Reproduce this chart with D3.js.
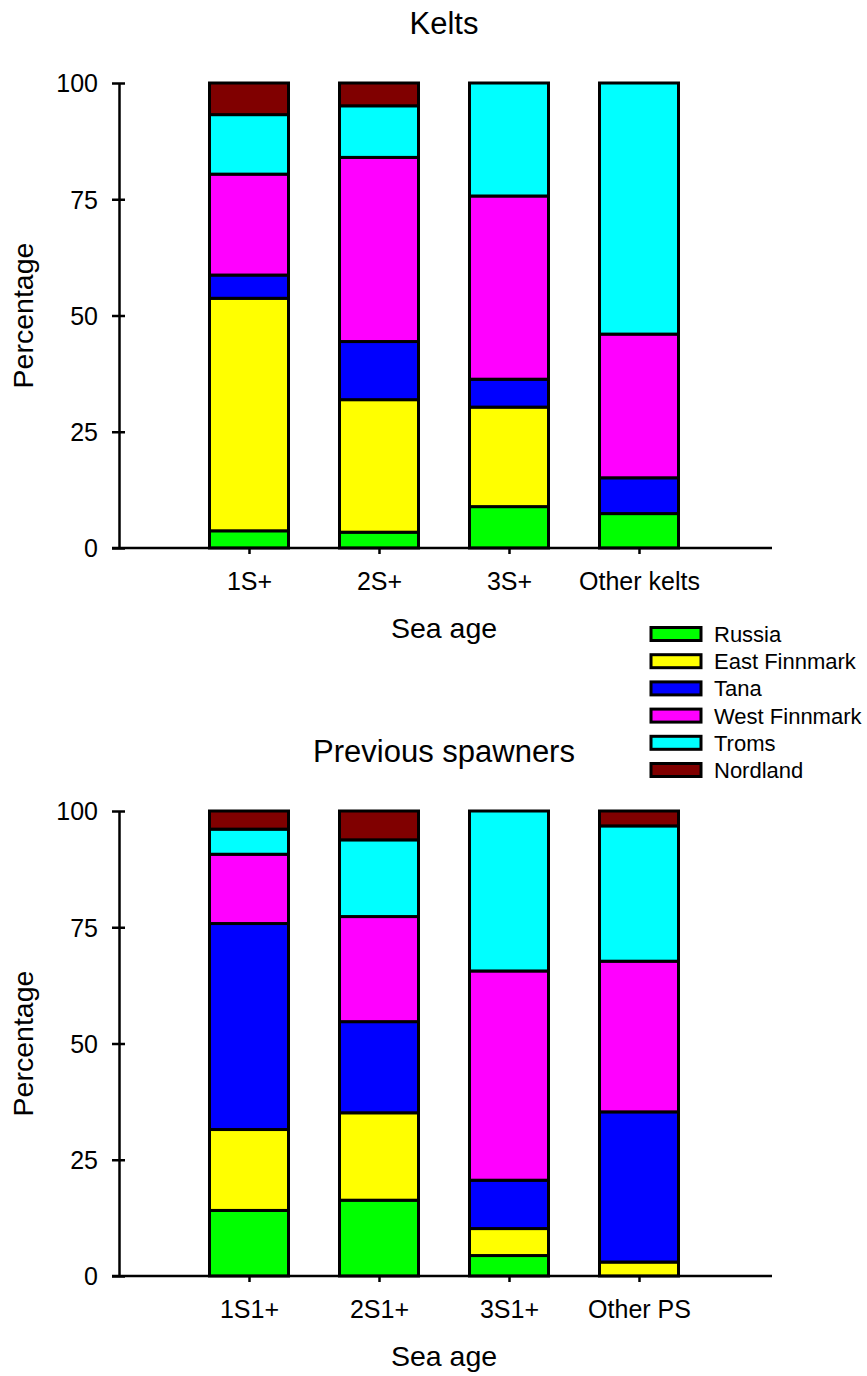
<!DOCTYPE html>
<html>
<head>
<meta charset="utf-8">
<script src="https://cdn.jsdelivr.net/npm/d3@7"></script>
<style>
  html, body { margin: 0; padding: 0; background: #fff; }
  svg { display: block; font-family: "Liberation Sans", Arial, Helvetica, sans-serif; }
</style>
</head>
<body>
<svg id="chart" width="867" height="1376"></svg>
<script>
// Origin regions, stacked bottom to top
const regions = ["Russia", "East Finnmark", "Tana", "West Finnmark", "Troms", "Nordland"];
const regionColors = ["#00ff00", "#ffff00", "#0000ff", "#ff00ff", "#00ffff", "#800000"];

// Kelts by sea age (percent)
const keltAges = ["1S+", "2S+", "3S+", "Other kelts"];
const russiaKelts       = [3.7, 3.4, 8.9, 7.4];
const eastFinnmarkKelts = [50.0, 28.5, 21.4, 0];
const tanaKelts         = [5.0, 12.5, 6.0, 7.7];
const westFinnmarkKelts = [21.7, 39.6, 39.4, 30.9];
const tromsKelts        = [12.8, 11.1, 24.3, 54.0];
const nordlandKelts     = [6.8, 4.9, 0, 0];

// Previous spawners by sea age (percent)
const spawnerAges = ["1S1+", "2S1+", "3S1+", "Other PS"];
const russiaPS       = [14.1, 16.3, 4.4, 0];
const eastFinnmarkPS = [17.4, 18.8, 5.8, 3.0];
const tanaPS         = [44.3, 19.6, 10.4, 32.3];
const westFinnmarkPS = [14.9, 22.6, 45.0, 32.4];
const tromsPS        = [5.4, 16.5, 34.4, 29.1];
const nordlandPS     = [3.9, 6.2, 0, 3.2];

const yTicks = [0, 25, 50, 75, 100];

const svg = d3.select("#chart");

function rows(ages, series) {
  return ages.map((age, i) => {
    const r = { age };
    regions.forEach((reg, k) => { r[reg] = series[k][i]; });
    return r;
  });
}

function drawPanel(opts) {
  const { title, ages, series, top, bottom } = opts;
  const left = 119, right = 769;

  const x = d3.scalePoint().domain(ages).range([left, right]).padding(1);
  const y = d3.scaleLinear().domain([0, 100]).range([bottom, top]);
  const barW = 79;

  const g = svg.append("g");

  // title
  g.append("text")
    .attr("x", (left + right) / 2)
    .attr("y", top - 49)
    .attr("text-anchor", "middle")
    .attr("font-size", 31)
    .text(title);

  // stacked bars
  const stacked = d3.stack().keys(regions)(rows(ages, series));
  stacked.forEach((layer, k) => {
    g.append("g")
      .selectAll("rect")
      .data(layer.filter(d => d[1] - d[0] > 0))
      .join("rect")
      .attr("x", d => x(d.data.age) - barW / 2)
      .attr("width", barW)
      .attr("y", d => y(d[1]))
      .attr("height", d => y(d[0]) - y(d[1]))
      .attr("fill", regionColors[k])
      .attr("stroke", "#000")
      .attr("stroke-width", 3);
  });

  // y axis
  const yAxis = g.append("g")
    .attr("transform", `translate(${left},0)`)
    .call(d3.axisLeft(y).tickValues(yTicks).tickSizeInner(7).tickSizeOuter(0).tickPadding(14));
  yAxis.select(".domain").attr("stroke-width", 2.5);
  yAxis.selectAll(".tick line").attr("x1", 6).attr("x2", -7).attr("stroke-width", 2.5);
  yAxis.selectAll(".tick text").attr("font-size", 25).attr("fill", "#000")
    .attr("font-family", "Liberation Sans, Arial, sans-serif").attr("dy", "0.35em");

  // x axis
  const xAxis = g.append("g")
    .attr("transform", `translate(0,${bottom})`)
    .call(d3.axisBottom(x).tickSizeInner(6).tickSizeOuter(0));
  xAxis.select(".domain").remove();
  xAxis.append("line")
    .attr("x1", left - 7).attr("x2", right + 3)
    .attr("stroke", "#000").attr("stroke-width", 2.5);
  xAxis.selectAll(".tick line").attr("stroke-width", 2.5);
  xAxis.selectAll(".tick text").attr("font-size", 25).attr("fill", "#000")
    .attr("font-family", "Liberation Sans, Arial, sans-serif")
    .attr("y", 42).attr("dy", 0);

  // axis titles
  g.append("text")
    .attr("x", (left + right) / 2)
    .attr("y", bottom + 90)
    .attr("text-anchor", "middle")
    .attr("font-size", 28.5)
    .text("Sea age");

  g.append("text")
    .attr("transform", `translate(33,${(top + bottom) / 2}) rotate(-90)`)
    .attr("text-anchor", "middle")
    .attr("font-size", 28.5)
    .text("Percentage");
}

drawPanel({ title: "Kelts", ages: keltAges,
  series: [russiaKelts, eastFinnmarkKelts, tanaKelts, westFinnmarkKelts, tromsKelts, nordlandKelts],
  top: 83, bottom: 548 });

drawPanel({ title: "Previous spawners", ages: spawnerAges,
  series: [russiaPS, eastFinnmarkPS, tanaPS, westFinnmarkPS, tromsPS, nordlandPS],
  top: 811, bottom: 1276 });

// legend
const legend = svg.append("g").attr("transform", "translate(651,0)");
const legendY = d3.scalePoint().domain(regions).range([634, 770]);
const item = legend.selectAll("g").data(regions).join("g")
  .attr("transform", d => `translate(0,${legendY(d)})`);
item.append("rect")
  .attr("x", 0).attr("y", -6.5).attr("width", 50).attr("height", 13)
  .attr("fill", (d, i) => regionColors[i])
  .attr("stroke", "#000").attr("stroke-width", 3);
item.append("text")
  .attr("x", 63).attr("y", 8)
  .attr("font-size", 22)
  .text(d => d);
</script>
</body>
</html>
